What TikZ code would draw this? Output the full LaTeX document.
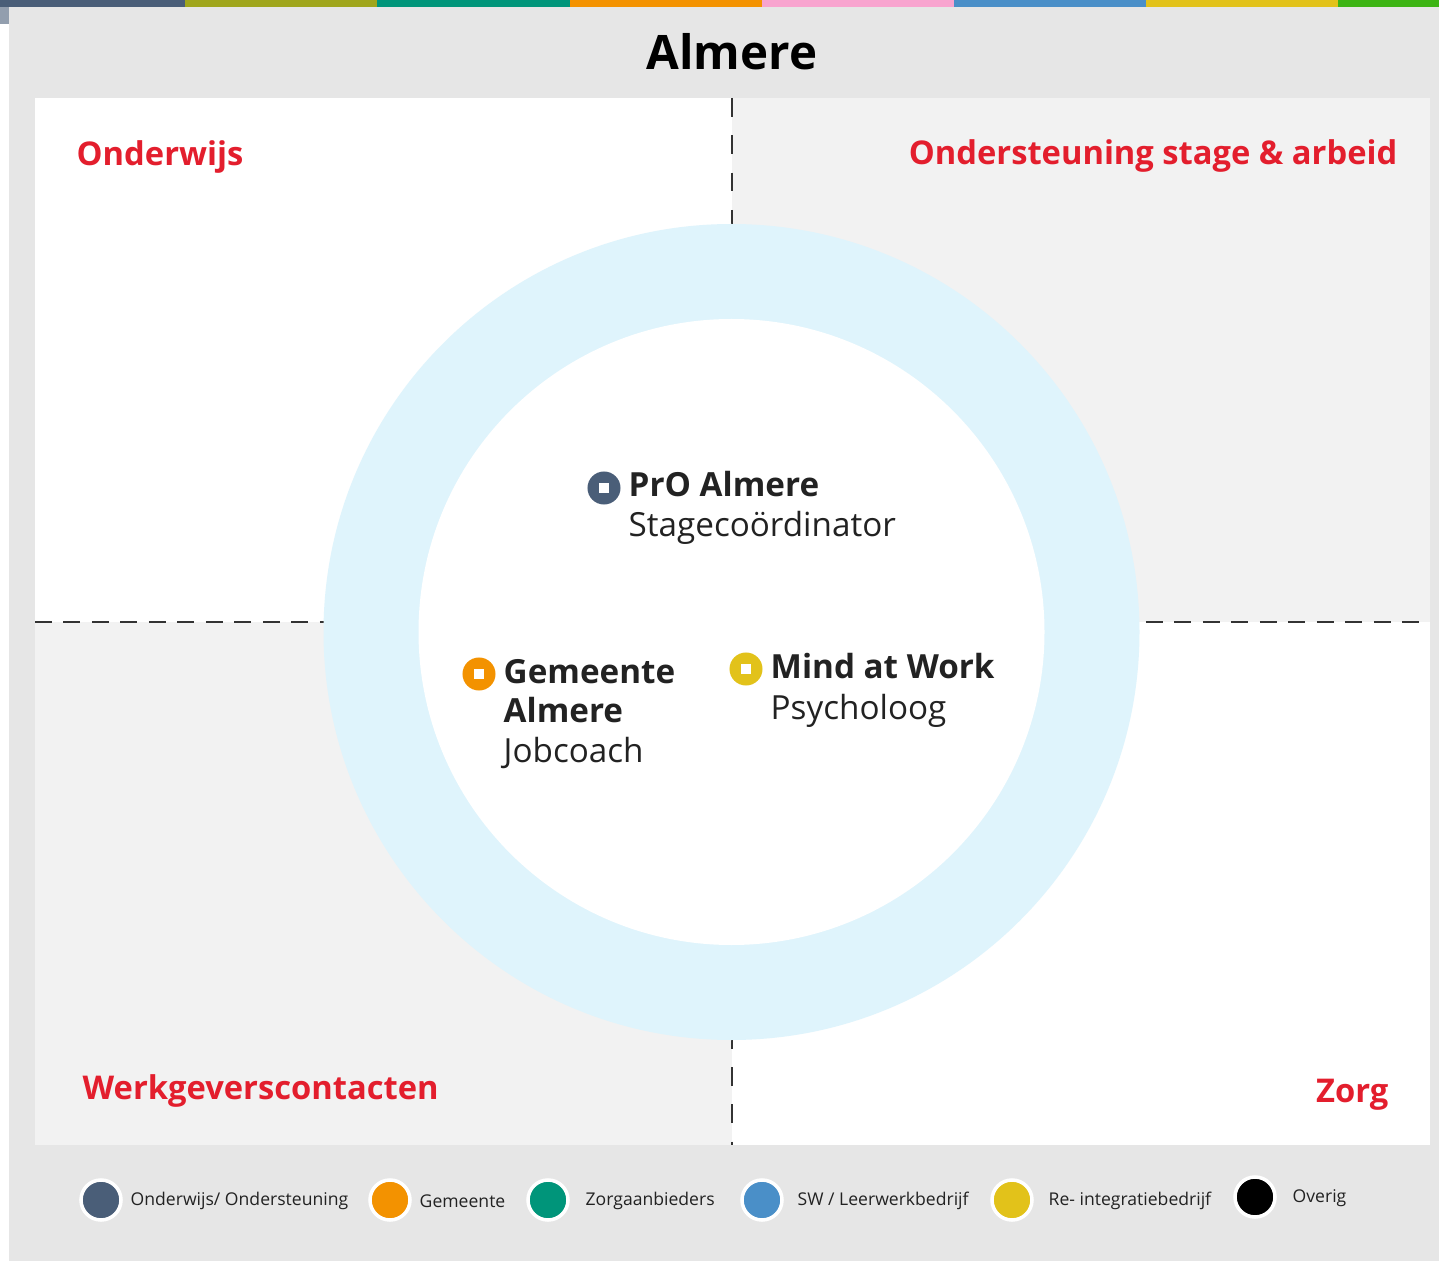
\documentclass[tikz,border=0pt]{standalone}
\usepackage{fontspec}
\setmainfont{Open Sans}
\usetikzlibrary{positioning}
\definecolor{barslate}{HTML}{4A5E78}
\definecolor{barolive}{HTML}{A0A61C}
\definecolor{barteal}{HTML}{00957A}
\definecolor{barorange}{HTML}{F39200}
\definecolor{barpink}{HTML}{F8A4CF}
\definecolor{barblue}{HTML}{4A8FC8}
\definecolor{baryellow}{HTML}{E2C21A}
\definecolor{bargreen}{HTML}{3DB414}
\definecolor{pagegrey}{HTML}{E6E6E6}
\definecolor{quadgrey}{HTML}{F2F2F2}
\definecolor{ringblue}{HTML}{DFF4FC}
\definecolor{almred}{HTML}{E31E2D}
\definecolor{txtdark}{HTML}{222222}
\begin{document}
\begin{tikzpicture}[x=0.01cm,y=-0.01cm,
   quadlabel/.style={text=almred,inner sep=0,font=\bfseries\fontsize{9.3}{11}\selectfont},
   actorname/.style={text=txtdark,inner sep=0,anchor=base west,font=\bfseries\fontsize{9.45}{12}\selectfont},
   actorrole/.style={text=txtdark,inner sep=0,anchor=base west,font=\fontsize{9.45}{12}\selectfont},
   marker/.style={circle,fill=#1,minimum size=0.33cm,inner sep=0},
   legenddot/.style={circle,fill=#1,draw=white,line width=1pt,minimum size=0.40cm,inner sep=0},
   legendtext/.style={text=txtdark,inner sep=0,anchor=west,font=\fontsize{5}{6}\selectfont},
   divider/.style={draw=black!80,line width=0.6pt}]
   \useasboundingbox (0,0) rectangle (1439,1261);
   % background and colour bar
   \fill[pagegrey] (9,7) rectangle (1439,1261);
   \fill[barslate!60] (0,7) rectangle (9,24);
   \foreach \xa/\xb/\c in {0/185/barslate,185/377/barolive,377/570/barteal,570/762/barorange,
                           762/954/barpink,954/1146/barblue,1146/1338/baryellow,1338/1439/bargreen}
      \fill[\c] (\xa,0) rectangle (\xb,7);
   % quadrants
   \fill[white]    (35,98)   rectangle (732,622);
   \fill[quadgrey] (732,98)  rectangle (1430,622);
   \fill[quadgrey] (35,622)  rectangle (732,1145);
   \fill[white]    (732,622) rectangle (1430,1145);
   \draw[divider,dash pattern=on 5.3pt off 5.3pt] (732,98) -- (732,1145);
   \draw[divider,dash pattern=on 4.8pt off 3.3pt] (35,622) -- (1430,622);
   % ring
   \fill[ringblue] (731.5,632) circle [radius=408];
   \fill[white]    (731.5,632) circle [radius=313];
   % title and quadrant labels
   \node[inner sep=0,font=\bfseries\fontsize{13.5}{15}\selectfont] (title) at (732,52) {Almere};
   \node[quadlabel,anchor=base west] (onderwijs) at (76,166) {Onderwijs};
   \node[quadlabel,anchor=base east] (stage) at (1398,165) {Ondersteuning stage \& arbeid};
   \node[quadlabel,anchor=base west] (werkgever) at (82,1099) {Werkgeverscontacten};
   \node[quadlabel,anchor=base east] (zorg) at (1389,1102) {Zorg};
   % actors
   \node[marker=barslate] (promark) at (604,488) {};
   \fill[white] ([xshift=-1.5pt,yshift=-1.5pt]promark.center) rectangle ([xshift=1.5pt,yshift=1.5pt]promark.center);
   \node[actorname] (pro) at (628,497) {PrO Almere};
   \node[actorrole] (prorole) at (628,537) {Stagecoördinator};
   \node[marker=barorange] (gemmark) at (479,674) {};
   \fill[white] ([xshift=-1.5pt,yshift=-1.5pt]gemmark.center) rectangle ([xshift=1.5pt,yshift=1.5pt]gemmark.center);
   \node[actorname] (gem) at (503,683) {Gemeente};
   \node[actorname] (gem2) at (503,722) {Almere};
   \node[actorrole] (gemrole) at (503,762) {Jobcoach};
   \node[marker=baryellow] (mindmark) at (746,669) {};
   \fill[white] ([xshift=-1.5pt,yshift=-1.5pt]mindmark.center) rectangle ([xshift=1.5pt,yshift=1.5pt]mindmark.center);
   \node[actorname] (mind) at (770,679) {Mind at Work};
   \node[actorrole] (mindrole) at (770,719) {Psycholoog};
   % legend
   \node[legenddot=barslate] (lgonderwijs) at (101,1200) {};
   \node[legendtext] at (130,1201) {Onderwijs/ Ondersteuning};
   \node[legenddot=barorange] (lggemeente) at (390,1200) {};
   \node[legendtext] at (419,1201) {Gemeente};
   \node[legenddot=barteal] (lgzorg) at (548,1200) {};
   \node[legendtext] at (585,1201) {Zorgaanbieders};
   \node[legenddot=barblue] (lgsw) at (762,1200) {};
   \node[legendtext] at (797,1201) {SW / Leerwerkbedrijf};
   \node[legenddot=baryellow] (lgreint) at (1012,1200) {};
   \node[legendtext] at (1048,1201) {Re- integratiebedrijf};
   \node[legenddot=black] (lgoverig) at (1255,1197) {};
   \node[legendtext] at (1292,1198) {Overig};
\end{tikzpicture}
\end{document}
